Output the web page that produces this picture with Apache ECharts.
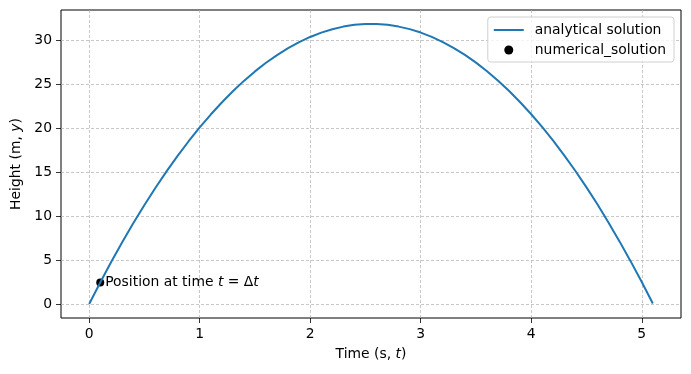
<!DOCTYPE html>
<html><head><meta charset="utf-8">
<script src="https://cdn.jsdelivr.net/npm/echarts@6/dist/echarts.min.js"></script>
<style>html,body{margin:0;padding:0;background:#fff}#c{width:691px;height:374px}</style>
</head><body><div id="c"></div>
<script>
// Time samples (s)
const times = [0,0.1,0.2,0.3,0.4,0.5,0.6,0.7,0.8,0.9,1.0,1.1,1.2,1.3,1.4,1.5,1.6,1.7,1.8,1.9,2.0,2.1,2.2,2.3,2.4,2.5,2.6,2.7,2.8,2.9,3.0,3.1,3.2,3.3,3.4,3.5,3.6,3.7,3.8,3.9,4.0,4.1,4.2,4.3,4.4,4.5,4.6,4.7,4.8,4.9,5.0,5.1];
// Analytical heights (m)
const heights = [0,2.45,4.80,7.06,9.22,11.28,13.24,15.10,16.86,18.53,20.10,21.57,22.94,24.22,25.40,26.48,27.46,28.34,29.12,29.81,30.40,30.89,31.28,31.58,31.78,31.88,31.88,31.78,31.58,31.29,30.90,30.41,29.82,29.14,28.36,27.48,26.50,25.42,24.24,22.97,21.60,20.13,18.56,16.90,15.14,13.28,11.32,9.26,7.10,4.85,2.50,0.05];
// Numerical solution point
const numTimes = [0.1];
const numHeights = [2.45];
const xTicks = [0,1,2,3,4,5];
const yTicks = [0,5,10,15,20,25,30];
const seriesNames = ['analytical solution','numerical_solution'];
const annotation = '{n|Position at time }{i|t}{n| = Δ}{i|t}';

const FONT = 'DejaVu Sans';
const FS = 13.9;
const rich = {
  n:{fontFamily:FONT,fontSize:FS,color:'#000'},
  i:{fontFamily:FONT,fontSize:FS,fontStyle:'italic',color:'#000'}
};
const gridLine = {show:true,lineStyle:{color:'#b0b0b0',width:0.7,type:[3,2]}};

const chart = echarts.init(document.getElementById('c'),null,{renderer:'canvas'});
chart.setOption({
  animation:false,
  backgroundColor:'#fff',
  grid:{left:61,right:10,top:10,bottom:56,show:true,borderColor:'#000',borderWidth:1,backgroundColor:'transparent'},
  xAxis:{type:'value',min:-0.255,max:5.355,
    name:'{n|Time (s, }{i|t}{n|)}',nameLocation:'middle',nameGap:29,
    nameTextStyle:{rich:rich},
    axisLine:{show:false,onZero:false},
    axisTick:{show:true,inside:false,length:5,customValues:xTicks,lineStyle:{color:'#000',width:0.8}},
    axisLabel:{customValues:xTicks,margin:9,fontFamily:FONT,fontSize:FS,color:'#000'},
    splitLine:gridLine},
  yAxis:{type:'value',min:-1.594,max:33.47,
    name:'{n|Height (m, }{i|y}{n|)}',nameLocation:'middle',nameGap:35,
    nameTextStyle:{rich:rich},
    axisLine:{show:false,onZero:false},
    axisTick:{show:true,inside:false,length:5,customValues:yTicks,lineStyle:{color:'#000',width:0.8}},
    axisLabel:{customValues:yTicks,margin:9,fontFamily:FONT,fontSize:FS,color:'#000'},
    splitLine:gridLine},
  legend:{top:17,right:17,orient:'vertical',itemGap:6,itemWidth:30,itemHeight:12,
    padding:[6,8,5,6],
    borderColor:'#d0d0d0',borderWidth:1,borderRadius:3,backgroundColor:'rgba(255,255,255,0.8)',
    textStyle:{fontFamily:FONT,fontSize:FS,color:'#000',padding:[0,0,0,6]},
    data:[{name:seriesNames[0],icon:'path://M0,5L30,5L30,7L0,7Z',itemStyle:{color:'#1f77b4'}},
          {name:seriesNames[1],icon:'path://M0,0M30,12M19.5,6A4.5,4.5,0,1,1,10.5,6A4.5,4.5,0,1,1,19.5,6Z',itemStyle:{color:'#000',opacity:1}}]},
  series:[
    {name:seriesNames[0],type:'line',data:times.map((t,i)=>[t,heights[i]]),showSymbol:false,symbol:'none',
     smooth:false,lineStyle:{color:'#1f77b4',width:2},itemStyle:{color:'#1f77b4'}},
    {name:seriesNames[1],type:'scatter',data:numTimes.map((t,i)=>[t,numHeights[i]]),symbolSize:8,
     itemStyle:{color:'#000',opacity:1},
     label:{show:true,position:'right',distance:1,color:'#000',formatter:annotation,rich:rich}}
  ]
});
</script></body></html>
